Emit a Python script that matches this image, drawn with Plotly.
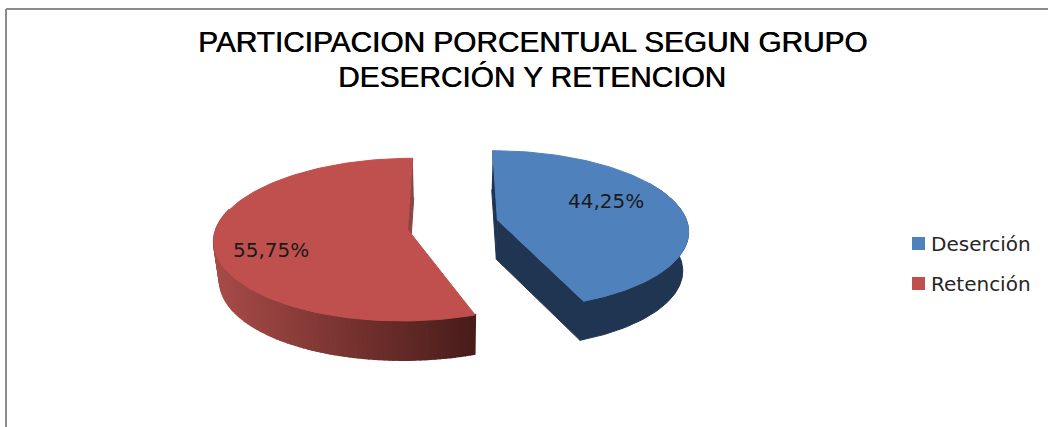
import numpy as np
import plotly.graph_objects as go

categories = ["Deserción", "Retención"]
values = [44.25, 55.75]
top_colors = ["#4F81BD", "#C0504D"]
title_lines = ["PARTICIPACION PORCENTUAL SEGUN GRUPO", "DESERCIÓN Y RETENCION"]

# projection of the tilted, exploded pie onto the page (pixels)
CX, CY, RX, RY = 453.0, 225.0, 190.5, 79.0
PERSP = 0.12
EXPLODE_X, EXPLODE_Y = 0.235, 0.06
DEPTH, DEPTH_SCALE = 39.0, 0.975
TRIM = [(0.0, -1.5), (1.0, 0.0)]   # small visual trim of slice edges, degrees
SIDE = [1, -1]


def project(x, y, slice_i, low=False):
    x = x + SIDE[slice_i] * EXPLODE_X
    y = y + SIDE[slice_i] * EXPLODE_Y
    w = 1 + PERSP * y
    sx, sy = CX + RX * x / w, CY - RY * y / w
    if low:
        sx = CX + (sx - CX) * DEPTH_SCALE
        sy = sy + DEPTH
    return sx, sy


def rim(a0, a1, slice_i, low=False, n=120):
    t = np.radians(np.linspace(a0, a1, n))
    return project(np.sin(t), np.cos(t), slice_i, low)


def poly(xs, ys, color, lw=1.0):
    return go.Scatter(x=list(xs), y=list(ys), mode="lines", fill="toself", fillcolor=color,
                      line=dict(color=color, width=lw), showlegend=False, hoverinfo="skip")


def mix(c0, c1, f):
    return "rgb(%d,%d,%d)" % tuple(a + (b - a) * f for a, b in zip(c0, c1))


fig = go.Figure()

total = sum(values)
ends = np.cumsum(values) / total * 360
starts = np.r_[0, ends[:-1]]
a0s = [starts[i] + TRIM[i][0] for i in range(2)]
a1s = [ends[i] + TRIM[i][1] for i in range(2)]

# red slice: back sliver, side wall shaded across the page, top
wedge_a, wedge_b = project(0.0, 1.0, 1), project(0.0, 0.0, 1)
wedge_la, wedge_lb = project(0.0, 1.0, 1, True), project(0.0, 0.0, 1, True)
fig.add_trace(poly([wedge_a[0], wedge_b[0], wedge_lb[0], wedge_la[0]],
                   [wedge_a[1], wedge_b[1], wedge_lb[1], wedge_la[1]], "#8C4644"))
edges = np.linspace(285, a0s[1], 91)
for e0, e1 in zip(edges[:-1], edges[1:]):
    tx, ty = rim(e0, e1, 1, n=4)
    bx, by = rim(e1, e0, 1, True, n=4)
    f = (tx.mean() - 214) / (477 - 214)
    fig.add_trace(poly(np.r_[tx, bx], np.r_[ty, by], mix((168, 76, 72), (72, 28, 26), f), lw=2.0))
tx, ty = rim(a0s[1], a1s[1], 1)
ax, ay = project(0.0, 0.0, 1)
fig.add_trace(poly(np.r_[ax, tx], np.r_[ay, ty], top_colors[1]))

# blue slice: back sliver, cut face, outer wall, top
DARK = "#1F3552"
ax, ay = project(0.0, 0.0, 0)
alx, aly = project(0.0, 0.0, 0, True)
s0 = rim(a0s[0], a0s[0], 0, n=1)
s0l = rim(a0s[0], a0s[0], 0, True, n=1)
fig.add_trace(poly([s0[0][0], ax, alx, s0l[0][0]], [s0[1][0], ay, aly, s0l[1][0]], DARK))
e = rim(a1s[0], a1s[0], 0, n=1)
el = rim(a1s[0], a1s[0], 0, True, n=1)
tx, ty = rim(60, a1s[0], 0)
bx, by = rim(a1s[0], 60, 0, True)
fig.add_trace(poly(np.r_[ax, e[0][0], el[0][0], alx], np.r_[ay, e[1][0], el[1][0], aly], DARK))
fig.add_trace(poly(np.r_[tx, bx], np.r_[ty, by], DARK))
tx, ty = rim(a0s[0], a1s[0], 0)
fig.add_trace(poly(np.r_[ax, tx], np.r_[ay, ty], top_colors[0]))

# legend swatches and entries
legend_x, legend_text_x, legend_y = 918.5, 929, [243.5, 283.5]
for name, color, ly in zip(categories, top_colors, legend_y):
    fig.add_trace(go.Scatter(x=[legend_x], y=[ly], mode="markers", name=name, showlegend=False,
                             marker=dict(symbol="square", size=13, color=color)))
    fig.add_annotation(x=legend_text_x, y=ly, text=name, showarrow=False, xanchor="left",
                       font=dict(family="DejaVu Sans", size=20, color="#262626"))

labels = [f"{v:.2f}".replace(".", ",") + "%" for v in values]
label_pos = [(605.5, 200.5), (271, 250)]
for text, (lx, ly) in zip(labels, label_pos):
    fig.add_annotation(x=lx, y=ly, text=text, showarrow=False,
                       font=dict(family="DejaVu Sans", size=20, color="#1a1a1a"))

for line, ly in zip(title_lines, [41, 76]):
    fig.add_annotation(x=532, y=ly, text=line, showarrow=False, align="center",
                       font=dict(family="Liberation Sans", size=29.8, color="#000000",
                                 shadow="0.6px 0 0 #000000"))

fig.add_shape(type="line", x0=6, x1=1048, y0=9, y1=9, line=dict(color="#8C8C8C", width=2))
fig.add_shape(type="line", x0=6, x1=6, y0=9, y1=427, line=dict(color="#8C8C8C", width=2))

fig.update_layout(
    width=1048, height=427, margin=dict(l=0, r=0, t=0, b=0),
    paper_bgcolor="white", plot_bgcolor="white", showlegend=False,
    xaxis=dict(range=[0, 1048], visible=False, fixedrange=True),
    yaxis=dict(range=[427, 0], visible=False, fixedrange=True),
    template=None,
)
fig.write_html("out.html", config={"displayModeBar": False},
               post_script="document.body.style.margin='0';document.body.style.overflow='hidden';")
